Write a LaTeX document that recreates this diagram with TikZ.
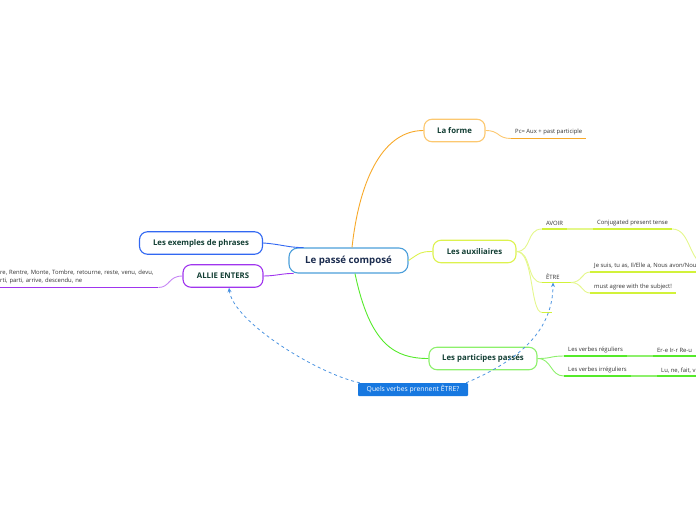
\documentclass[tikz,border=0pt]{standalone}
\usepackage{fontspec}
\setmainfont{Open Sans}
\usetikzlibrary{calc,arrows.meta}
\definecolor{corange}{HTML}{F7A92A}
\definecolor{corangel}{HTML}{FCC870}
\definecolor{clime}{HTML}{D2F23A}
\definecolor{climel}{HTML}{E4F78C}
\definecolor{climeb}{HTML}{DDF24E}
\definecolor{cgreen}{HTML}{55EA2A}
\definecolor{cgreenl}{HTML}{8DF06C}
\definecolor{cblue}{HTML}{3268F2}
\definecolor{cpurple}{HTML}{A035EE}
\definecolor{ccentral}{HTML}{4C9FDA}
\definecolor{cquels}{HTML}{1778E0}
\definecolor{cdash}{HTML}{4B93E0}
\definecolor{topictext}{HTML}{123E33}
\definecolor{centraltext}{HTML}{1B2C4F}
\definecolor{leaftext}{HTML}{333333}
\tikzset{
  central/.style={draw=ccentral, line width=1.1pt, rounded corners=9pt, fill=white,
    text=centraltext, font=\bfseries\fontsize{9.7}{11}\selectfont,
    minimum width=119pt, minimum height=25pt, inner sep=0pt},
  topic/.style={line width=1.1pt, rounded corners=8pt, fill=white,
    text=topictext, font=\bfseries\fontsize{7.8}{9}\selectfont,
    minimum height=22.5pt, inner sep=0pt},
  leaf/.style={anchor=south west, text=leaftext, font=\fontsize{5.9}{7}\selectfont,
    inner xsep=4pt, inner ysep=3pt},
  ul/.style={line width=1.4pt},
  conn/.style={line width=0.9pt},
  dasharrow/.style={draw=cdash, line width=0.8pt, dash pattern=on 3pt off 3pt,
    -{Stealth[length=4.5pt,width=4pt]}},
}
\begin{document}
\begin{tikzpicture}[x=1pt,y=-1pt]
\useasboundingbox (0,0) rectangle (696,520);

% main topics
\node[central] (c) at (348.5,260.5) {Le passé composé};
\node[topic, draw=corangel, minimum width=61pt] (forme) at (454.5,130.5) {La forme};
\node[topic, draw=climeb, minimum width=83pt] (aux) at (474.5,251.5) {Les auxiliaires};
\node[topic, draw=cgreenl, minimum width=108pt] (part) at (483,358.5) {Les participes passés};
\node[topic, draw=cblue, minimum width=123pt] (ex) at (201,243) {Les exemples de phrases};
\node[topic, draw=cpurple, minimum width=80pt] (allie) at (223,276) {ALLIE ENTERS};

% leaves
\node[leaf] (pc) at (511,138.5) {Pc= Aux + past participle};
\node[leaf] (avoir) at (542,229) {AVOIR};
\node[leaf] (conj) at (593,229) {Conjugated present tense};
\node[leaf] (etre) at (542,282.5) {ÊTRE};
\node[leaf, minimum width=10pt] (emp) at (542,312.5) {};
\node[leaf] (jesuis) at (590,272) {Je suis, tu as, Il/Elle a, Nous avon/Nous};
\node[leaf] (must) at (590,293) {must agree with the subject!};
\node[leaf] (reg) at (564,356) {Les verbes réguliers};
\node[leaf] (ere) at (653,356) {Er-e Ir-r Re-u};
\node[leaf] (irr) at (564,376) {Les verbes irréguliers};
\node[leaf] (lu) at (657,376) {Lu, ne, fait, vu};
\node[leaf, text width=154pt, align=left, font=\fontsize{5.9}{8.2}\selectfont] (alt) at (-4,287.5)
  {re, Rentre, Monte, Tombre, retourne, reste, venu, devu,\\rti, parti, arrive, descendu, ne};
\coordinate (offc) at (710,266);

\node[fill=cquels, text=white, font=\fontsize{6.8}{8}\selectfont, rounded corners=1pt,
  minimum width=110pt, minimum height=13pt, inner sep=0pt] (quels) at (413,389.5)
  {Quels verbes prennent ÊTRE?};

% connectors from central
\draw[conn, draw=corange] ([xshift=3.5pt]c.north) .. controls (360,175) and (385,130.5) .. (forme.west);
\draw[conn, draw=climeb] (c.east) .. controls (420,253) and (420,251.5) .. (aux.west);
\draw[conn, draw=cgreen] ([xshift=6.5pt]c.south) .. controls (370,345) and (395,358.5) .. (part.west);
\draw[conn, draw=cblue] (ex.east) .. controls (280,244) and (290,248) .. ([xshift=-45pt]c.north);
\draw[conn, draw=cpurple] (allie.east) .. controls (275,276) and (285,273) .. ([xshift=-55pt]c.south);

% forme
\draw[conn, draw=corangel] (forme.east) .. controls (500,130.5) and (497,138.5) .. (pc.south west);
\draw[ul, draw=corange] (pc.south west) -- (pc.south east);

% auxiliaires
\draw[conn, draw=climel] (aux.east) .. controls (532,251.5) and (526,229) .. (avoir.south west);
\draw[conn, draw=climel] (aux.east) .. controls (532,251.5) and (526,282.5) .. (etre.south west);
\draw[conn, draw=climel] (aux.east) .. controls (534,251.5) and (530,312.5) .. (emp.south west);
\draw[ul, draw=clime] (avoir.south west) -- (avoir.south east);
\draw[ul, draw=climel] (avoir.south east) -- (conj.south west);
\draw[ul, draw=clime] (conj.south west) -- (conj.south east);
\draw[conn, draw=climel] (conj.south east) .. controls (692,229) and (688,266) .. (offc);
\draw[ul, draw=clime] (etre.south west) -- ([xshift=7pt]etre.south east);
\draw[ul, draw=clime] (emp.south west) -- (emp.south east);
\draw[conn, draw=climel] ([xshift=7pt]etre.south east) .. controls (582,282.5) and (582,272) .. (jesuis.south west);
\draw[conn, draw=climel] ([xshift=7pt]etre.south east) .. controls (582,282.5) and (582,293) .. (must.south west);
\draw[ul, draw=clime] (jesuis.south west) -- (jesuis.south east);
\draw[ul, draw=clime] (must.south west) -- (must.south east);

% participes
\draw[conn, draw=cgreenl] (part.east) .. controls (552,358.5) and (550,356) .. (reg.south west);
\draw[conn, draw=cgreenl] (part.east) .. controls (552,358.5) and (550,376) .. (irr.south west);
\draw[ul, draw=cgreen] (reg.south west) -- (reg.south east);
\draw[ul, draw=cgreenl] (reg.south east) -- (ere.south west);
\draw[ul, draw=cgreen] (ere.south west) -- (ere.south east);
\draw[ul, draw=cgreen] (irr.south west) -- (irr.south east);
\draw[ul, draw=cgreenl] (irr.south east) -- (lu.south west);
\draw[ul, draw=cgreen] (lu.south west) -- (lu.south east);

% allie
\draw[conn, draw=cpurple!60] (allie.west) .. controls (168,276) and (170,287.5) .. (alt.south east);
\draw[ul, draw=cpurple] (alt.south west) -- (alt.south east);

% dashed relations
\draw[dasharrow] ([xshift=2pt]quels.north west) .. controls (318,374) and (233,322) .. ([xshift=6pt]allie.south);
\draw[dasharrow] ([xshift=-2pt]quels.north east) .. controls (520,360) and (553,330) .. ([xshift=11pt]etre.south west);
\end{tikzpicture}
\end{document}
